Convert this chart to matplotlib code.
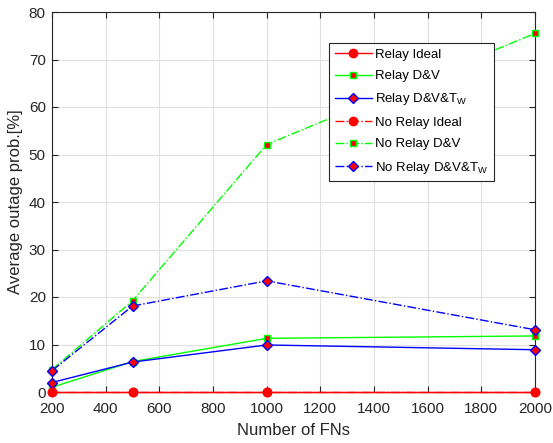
import matplotlib
matplotlib.use("Agg")
import matplotlib.pyplot as plt

plt.rcParams["font.family"] = ["Liberation Sans", "DejaVu Sans"]
plt.rcParams["mathtext.default"] = "regular"

# data
fns = [200, 500, 1000, 2000]
relay_ideal = [0, 0, 0, 0]
relay_dv = [1.0, 6.4, 11.3, 11.8]
relay_dvtw = [2.0, 6.3, 9.9, 8.9]
norelay_ideal = [0, 0, 0, 0]
norelay_dv = [4.7, 19.2, 52.1, 75.5]
norelay_dvtw = [4.5, 18.1, 23.4, 13.1]

labels = ["Relay Ideal", "Relay D&V", "Relay D&V&T$_W$",
          "No Relay Ideal", "No Relay D&V", "No Relay D&V&T$_W$"]

fig = plt.figure(figsize=(5.53, 4.43), dpi=100)
ax = fig.add_axes([52 / 553, 51 / 443, 483 / 553, 380 / 443])

series = [
    (relay_ideal, "red", "o", "-", 6),
    (relay_dv, (0, 1, 0), "s", "-", 5),
    (relay_dvtw, "blue", "D", "-", 5),
    (norelay_ideal, "red", "o", "-.", 6),
    (norelay_dv, (0, 1, 0), "s", "-.", 5),
    (norelay_dvtw, "blue", "D", "-.", 5),
]
for (vals, col, mk, ls, ms), lab in zip(series, labels):
    ax.plot(fns, vals, color=col, linestyle=ls, marker=mk, markersize=ms,
            markerfacecolor="red", markeredgecolor=col, linewidth=1,
            label=lab, clip_on=False, zorder=3)

txt = "#262626"
ax.set_xlim(200, 2000)
ax.set_ylim(0, 80)
ax.set_xticks(range(200, 2001, 200))
ax.set_yticks(range(0, 81, 10))
ax.grid(True, color="#e0e0e0", linewidth=0.8)
ax.set_axisbelow(True)
ax.tick_params(direction="in", top=True, right=True, labelsize=11,
               color=txt, labelcolor=txt, length=4)
ax.tick_params(axis="x", pad=7)
ax.tick_params(axis="y", pad=4.5)
for s in ax.spines.values():
    s.set_color(txt)
    s.set_linewidth(0.8)
ax.set_xlabel("Number of FNs", fontsize=12, color=txt, labelpad=5)
ax.set_ylabel("Average outage prob.[%]", fontsize=12, color=txt, labelpad=4)

leg = ax.legend(loc="upper right", bbox_to_anchor=(0.915, 0.918), fontsize=9.5,
                fancybox=False, edgecolor=txt, framealpha=1,
                handlelength=2.8, borderpad=0.4, labelspacing=0.7,
                handletextpad=0.3, borderaxespad=0)
leg.get_frame().set_linewidth(0.8)

fig.savefig("out.png", dpi=100)
